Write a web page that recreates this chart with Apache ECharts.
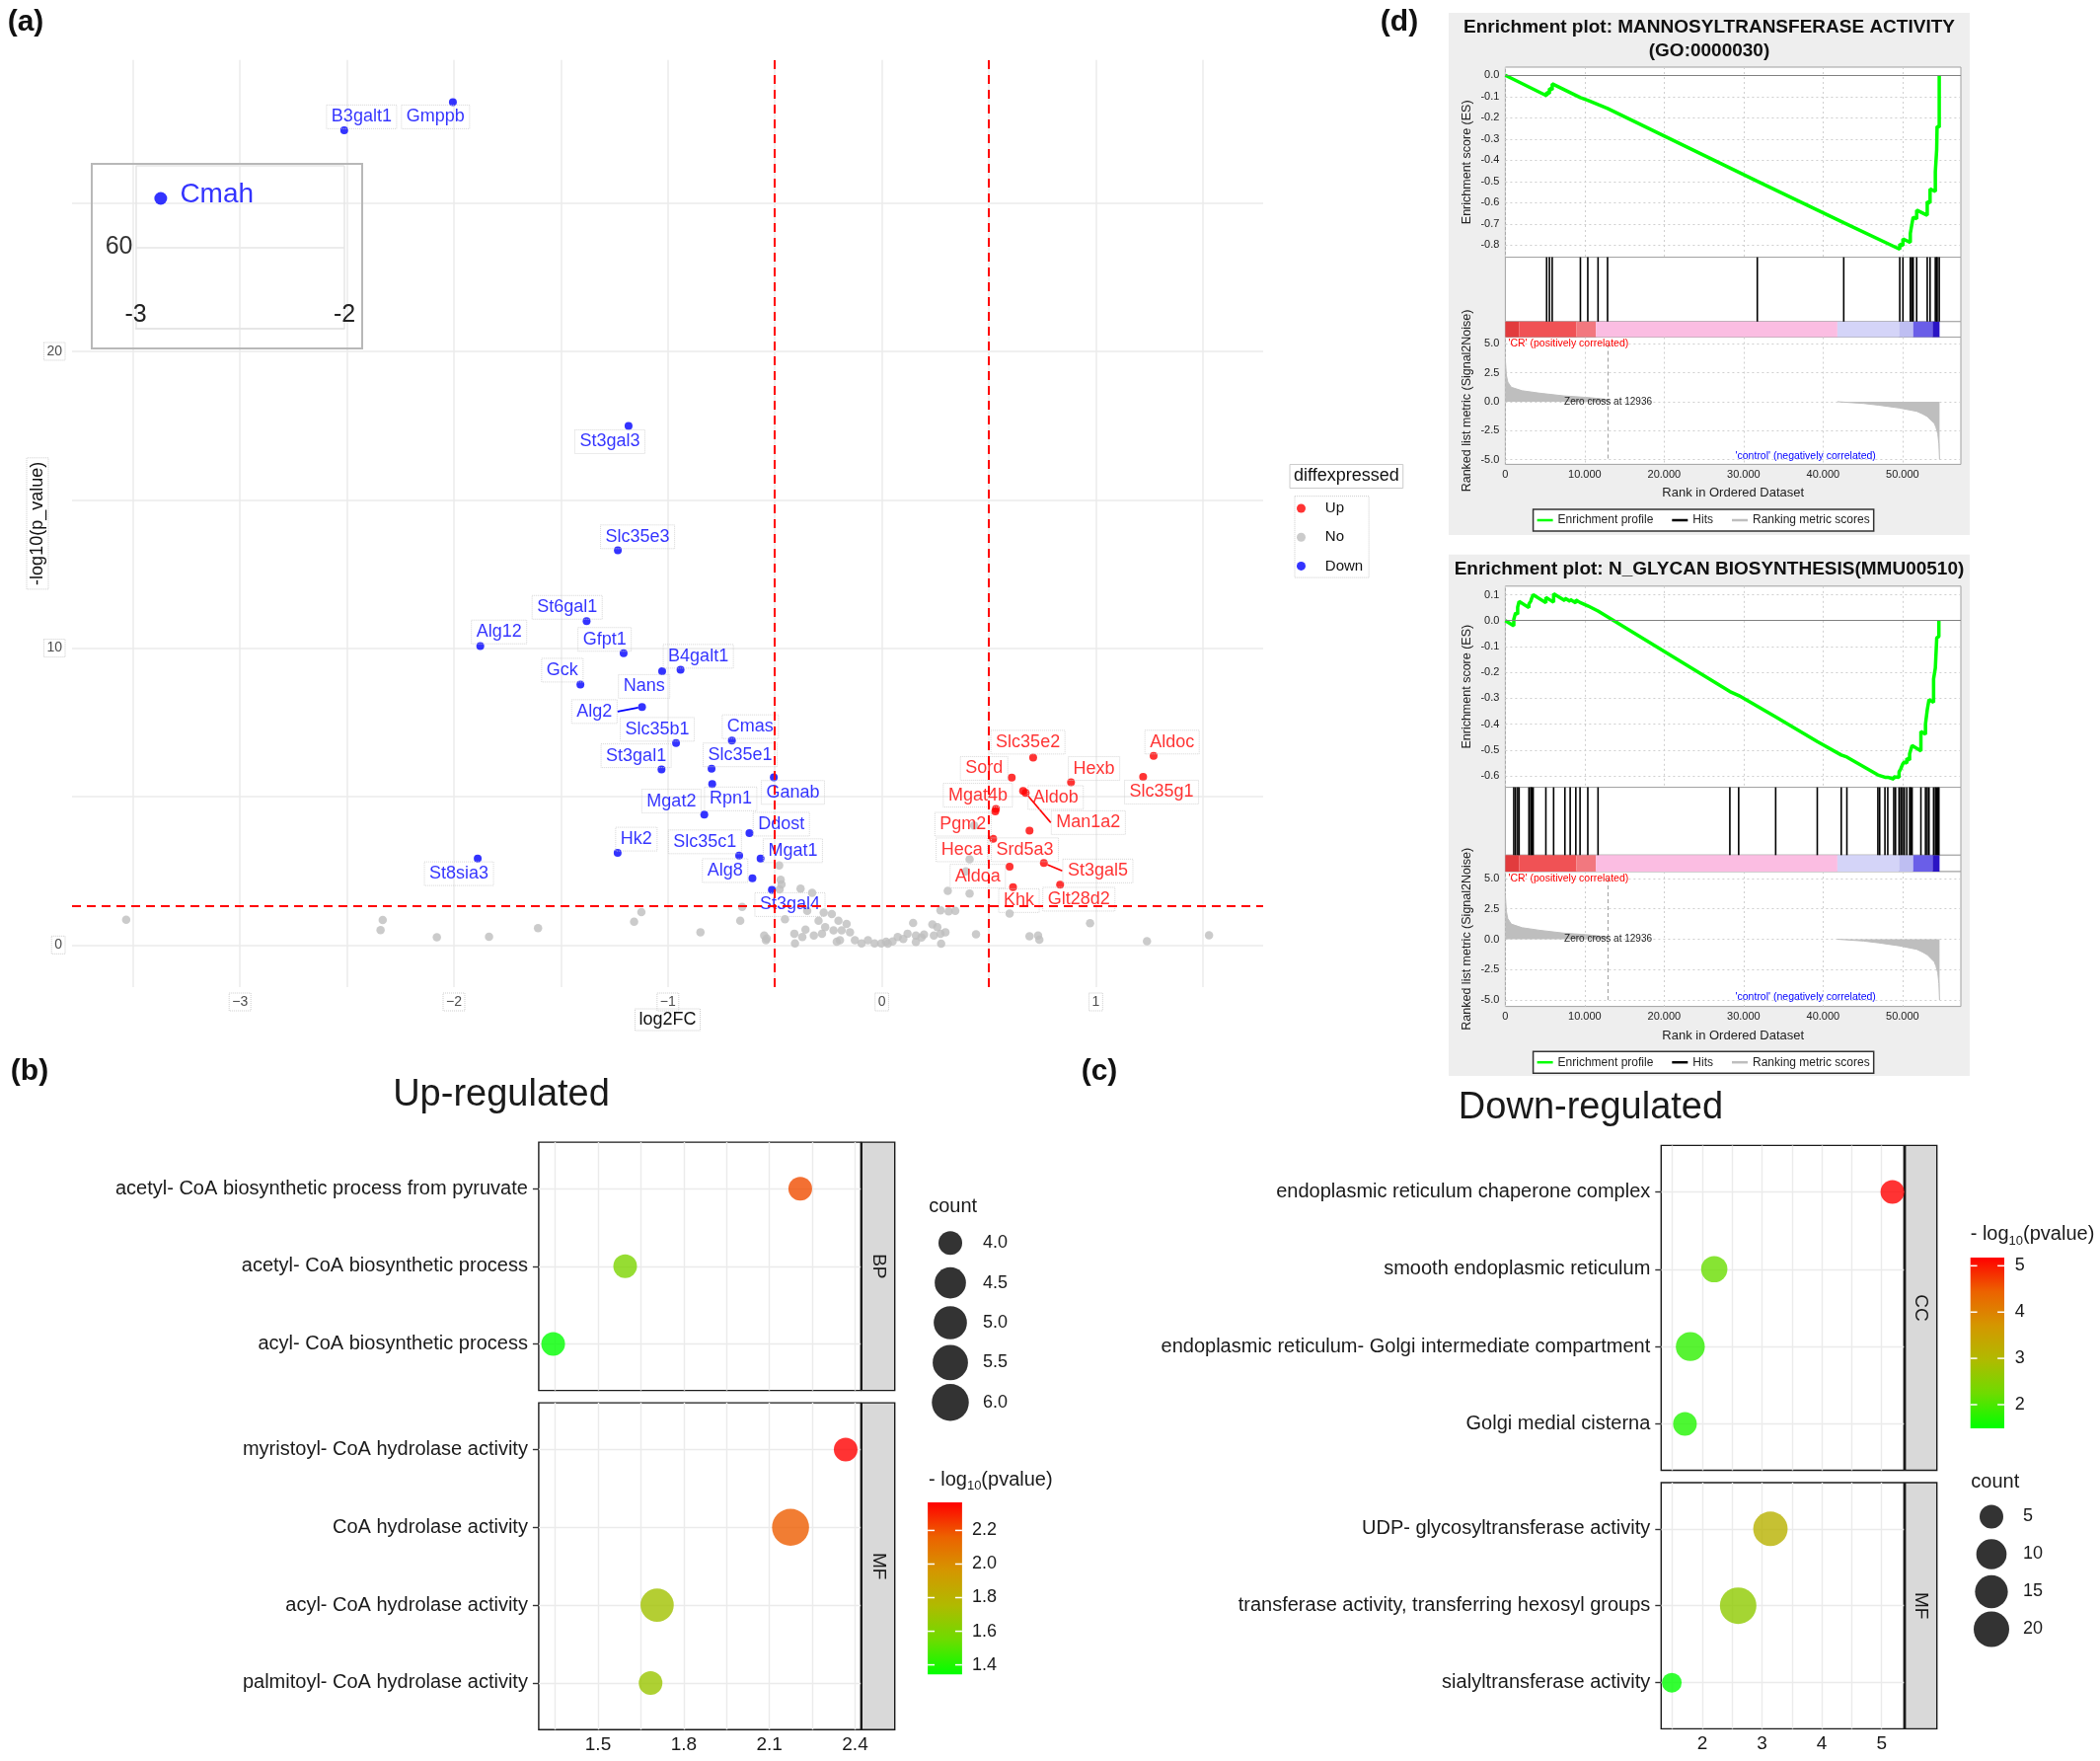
<!DOCTYPE html>
<html>
<head>
<meta charset="utf-8">
<script src="https://cdn.jsdelivr.net/npm/echarts@6.0.0/dist/echarts.min.js"></script>
<style>
html,body{margin:0;padding:0;background:#ffffff;}
#chart{width:2128px;height:1784px;}
</style>
</head>
<body>
<div id="chart"></div>
<script>
// ===================== DATA =====================
// (a) volcano plot
const downGenes = ['B3galt1','Gmppb','St3gal3','Slc35e3','St6gal1','Alg12','Gfpt1','Gck','B4galt1','Nans','Alg2','Slc35b1','Cmas','St3gal1','Slc35e1','Ganab','Rpn1','Mgat2','Ddost','Hk2','Slc35c1','Mgat1','Alg8','St3gal4','St8sia3'];
const downFC = [-2.513,-2.005,-1.184,-1.234,-1.380,-1.877,-1.207,-1.409,-0.941,-1.027,-1.121,-0.962,-0.701,-1.030,-0.796,-0.505,-0.793,-0.830,-0.619,-1.235,-0.667,-0.567,-0.605,-0.514,-1.889];
const downLogP = [27.45,28.40,17.49,13.30,10.91,10.07,9.83,8.77,9.27,9.22,8.02,6.80,6.89,5.91,5.94,5.65,5.42,4.39,3.77,3.10,3.01,2.91,2.25,1.86,2.91];
const upGenes = ['Slc35e2','Aldoc','Sord','Hexb','Slc35g1','Aldob','Man1a2','Mgat4b','Pgm2','Srd5a3','Heca','Aldoa','St3gal5','Khk','Glt28d2'];
const upFC = [0.707,1.270,0.607,0.884,1.221,0.660,0.672,0.533,0.530,0.690,0.520,0.597,0.757,0.613,0.833];
const upLogP = [6.31,6.37,5.64,5.48,5.66,5.19,5.12,4.58,4.50,3.85,3.58,2.64,2.76,1.95,2.03];
const noFC = [-3.532,-2.333,-2.343,-2.080,-1.836,-1.607,-1.158,-1.124,-0.848,-0.662,-0.653,-0.550,-0.542,-0.538,-0.480,-0.473,-0.469,-0.478,-0.453,-0.406,-0.409,-0.380,-0.372,-0.357,-0.349,-0.326,-0.318,-0.296,-0.280,-0.272,-0.265,-0.234,-0.226,-0.211,-0.203,-0.196,-0.188,-0.165,-0.149,-0.126,-0.095,-0.065,-0.034,-0.003,0.020,0.028,0.074,0.120,0.159,0.197,0.159,0.146,0.236,0.259,0.274,0.277,0.297,0.243,0.308,0.410,0.410,0.393,0.431,0.274,0.312,0.343,0.440,0.597,0.690,0.730,0.736,0.973,1.239,1.529,0.050,0.100,0.185];
const noLogP = [0.85,0.84,0.50,0.26,0.28,0.57,0.78,1.11,0.43,0.82,1.28,0.32,0.16,0.22,2.68,2.20,2.04,1.87,0.87,0.05,0.38,1.90,0.27,0.52,1.15,1.76,0.32,0.82,0.38,1.09,0.60,1.04,0.49,0.11,0.82,0.16,0.49,0.71,0.43,0.16,0.05,0.16,0.05,0.05,0.11,0.04,0.27,0.38,0.32,0.35,0.10,0.74,0.69,0.60,0.38,0.04,0.43,0.32,1.82,1.73,2.89,2.48,4.03,1.17,1.13,1.15,0.36,1.06,0.29,0.32,0.18,0.73,0.13,0.33,0.12,0.20,0.25];
const insetGene = ['Cmah'];
const insetFC = [-2.88];
const insetLogP = [63.0];
const fcCutoff = [-0.5, 0.5];
const pCutoff = [1.301];
const volcanoXTicks = [-3,-2,-1,0,1];
const volcanoXGrid = [-3.5,-3,-2.5,-2,-1.5,-1,-0.5,0,0.5,1,1.5];
const volcanoYTicks = [0,10,20];
const volcanoYGrid = [0,5,10,15,20,25];
const insetXTicks = [-3,-2];

// (d) GSEA
const gsea1Rank = [0,5200,5200,5550,5550,5900,5900,9450,9450,10380,10380,11670,11670,12870,12870,31720,31720,42600,42600,49650,49650,50050,50050,50980,50980,51160,51160,51340,51340,51780,51780,53110,53110,53466,53466,54130,54130,54300,54300,54350,54350,54620,54620];
const gsea1ES = [0,-0.096,-0.080,-0.086,-0.062,-0.068,-0.040,-0.105,-0.101,-0.118,-0.114,-0.138,-0.134,-0.156,-0.152,-0.499,-0.494,-0.694,-0.689,-0.819,-0.795,-0.802,-0.770,-0.787,-0.745,-0.748,-0.705,-0.708,-0.668,-0.676,-0.635,-0.659,-0.595,-0.601,-0.535,-0.547,-0.455,-0.458,-0.350,-0.351,-0.240,-0.245,0.0];
const gsea1Hits = [5200,5550,5900,9450,10380,11670,12870,31720,42600,49650,50050,50980,51160,51340,51780,53110,53466,54130,54300,54350,54620];
const gsea2Rank = [0,1065,1065,1287,1287,1553,1553,1730,1730,2973,2973,3195,3195,3328,3328,3505,3505,5103,5103,6079,6079,7499,7499,8164,8164,8874,8874,9406,9406,10383,10383,11669,11669,28264,28264,29373,29373,34032,34032,39268,39268,42285,42285,42995,42995,46899,46899,47121,47121,47787,47787,48142,48142,48896,48896,49118,49118,49561,49561,49783,49783,50005,50005,50227,50227,50538,50538,50892,50892,51026,51026,51203,51203,52313,52313,52889,52889,53111,53111,53333,53333,53910,53910,54131,54131,54309,54309,54442,54442,54575,54575];
const gsea2ES = [0,-0.020,0.005,0.001,0.030,0.025,0.052,0.049,0.074,0.050,0.064,0.060,0.075,0.072,0.087,0.084,0.100,0.069,0.090,0.071,0.104,0.077,0.087,0.074,0.082,0.068,0.080,0.070,0.076,0.057,0.062,0.037,0.042,-0.274,-0.268,-0.289,-0.283,-0.372,-0.366,-0.467,-0.461,-0.519,-0.513,-0.527,-0.521,-0.596,-0.592,-0.596,-0.592,-0.605,-0.598,-0.605,-0.598,-0.612,-0.603,-0.607,-0.596,-0.605,-0.585,-0.589,-0.572,-0.576,-0.555,-0.559,-0.545,-0.551,-0.532,-0.539,-0.515,-0.518,-0.500,-0.503,-0.482,-0.503,-0.428,-0.439,-0.400,-0.404,-0.345,-0.349,-0.305,-0.316,-0.225,-0.229,-0.183,-0.187,-0.066,-0.069,-0.060,-0.062,0.0];
const gsea2Hits = [1065,1287,1553,1730,2973,3195,3328,3505,5103,6079,7499,8164,8874,9406,10383,11669,28264,29373,34032,39268,42285,42995,46899,47121,47787,48142,48896,49118,49561,49783,50005,50227,50538,50892,51026,51203,52313,52889,53111,53333,53910,54131,54309,54442,54575];
const metricPosRank = [0,130,310,750,2100,4300,7400,10500,12700,12936];
const metricPosVal = [3.65,2.30,1.70,1.25,0.95,0.74,0.50,0.36,0.20,0.0];
const metricNegRank = [41800,45100,47000,49560,51780,52500,53110,54000,54200,54440,54580,54660];
const metricNegVal = [0.0,-0.15,-0.30,-0.54,-0.83,-1.05,-1.28,-1.87,-2.20,-2.77,-3.66,-5.0];
const zeroCross = [12936];
const bandEdges = [0,1730,8960,11400,41800,49560,51340,53780,54660];
const rankTicks = [0,10000,20000,30000,40000,50000];
const gsea1ESTicks = [0.0,-0.1,-0.2,-0.3,-0.4,-0.5,-0.6,-0.7,-0.8];
const gsea2ESTicks = [0.1,0.0,-0.1,-0.2,-0.3,-0.4,-0.5,-0.6];
const metricTicks = [5.0,2.5,0.0,-2.5,-5.0];

// (b) up-regulated GO
const upBPTerms = ['acetyl- CoA biosynthetic process from pyruvate','acetyl- CoA biosynthetic process','acyl- CoA biosynthetic process'];
const upBPLogP = [2.208,1.595,1.343];
const upBPCount = [4,4,4];
const upMFTerms = ['myristoyl- CoA hydrolase activity','CoA hydrolase activity','acyl- CoA hydrolase activity','palmitoyl- CoA hydrolase activity'];
const upMFLogP = [2.367,2.174,1.707,1.684];
const upMFCount = [4,6,5,4];
const upXTicks = [1.5,1.8,2.1,2.4];
const upXGrid = [1.35,1.5,1.65,1.8,1.95,2.1,2.25,2.4];
const upColorTicks = [1.4,1.6,1.8,2.0,2.2];
const upSizeLegend = [4.0,4.5,5.0,5.5,6.0];

// (c) down-regulated GO
const downCCTerms = ['endoplasmic reticulum chaperone complex','smooth endoplasmic reticulum','endoplasmic reticulum- Golgi intermediate compartment','Golgi medial cisterna'];
const downCCLogP = [5.18,2.20,1.80,1.71];
const downCCCount = [5,7,9,5];
const downMFTerms = ['UDP- glycosyltransferase activity','transferase activity, transferring hexosyl groups','sialyltransferase activity'];
const downMFLogP = [3.14,2.60,1.49];
const downMFCount = [18,22,3];
const downXTicks = [2,3,4,5];
const downXGrid = [1.5,2,2.5,3,3.5,4,4.5,5];
const downColorTicks = [2,3,4,5];
const downSizeLegend = [5,10,15,20];

// ===================== STYLE / LAYOUT =====================
const FONT = '"Liberation Sans", Arial, Helvetica, sans-serif';
const labelOffsets = {
  B3galt1:[17.6,-13.6], Gmppb:[-17.6,15], St3gal3:[-19,16], Slc35e3:[20,-13.6], St6gal1:[-19.7,-14],
  Alg12:[19,-14.3], Gfpt1:[-19.3,-14], Gck:[-18.3,-14.7], B4galt1:[18,-13.7], Nans:[-18.3,15.3],
  Alg2:[-48.3,4.7], Slc35b1:[-19,-14], Cmas:[18.7,-14], St3gal1:[-25.7,-14], Slc35e1:[29,-14],
  Ganab:[19.3,15.3], Rpn1:[18.7,15], Mgat2:[-33.3,-13.7], Ddost:[32.3,-9], Hk2:[19,-14],
  Slc35c1:[-34.7,-14], Mgat1:[32.7,-8], Alg8:[-27.7,-7.7], St3gal4:[18.3,15], St8sia3:[-19,15.3],
  Slc35e2:[-5.3,-15.7], Aldoc:[18.7,-14], Sord:[-28,-9.3], Hexb:[23.3,-14], Slc35g1:[18.7,15.3],
  Aldob:[33,6.7], Man1a2:[63.5,30], Mgat4b:[-18.3,-14], Pgm2:[-32.7,13], Srd5a3:[-4.7,19.3],
  Heca:[-31.7,11.3], Aldoa:[-32.3,9.7], St3gal5:[54.7,8], Khk:[6,13.7], Glt28d2:[19,14.7]
};
const connectorGenes = ['Alg2','Man1a2','St3gal5'];
const bandColors = ['#E23B3D','#F05255','#F2787F','#FBBDE2','#D4D4F8','#BEBEF2','#6A5EE8','#2A14C4'];
const GO_COLORS = ['#00FF00','#6DDC00','#B0BA00','#D49700','#EC6200','#FF0000'];
const sizeBreaksB = [4,4.5,5,5.5,6], sizePxB = [24,31.7,33.7,35.8,37.5];
const sizeBreaksC = [3,5,10,15,20,22], sizePxC = [20,24,30.7,33.3,36,37];

function interp(v, xs, ys){
  if (v <= xs[0]) return ys[0];
  for (let i = 1; i < xs.length; i++) {
    if (v <= xs[i]) { const t = (v - xs[i-1])/(xs[i]-xs[i-1]); return ys[i-1] + t*(ys[i]-ys[i-1]); }
  }
  return ys[ys.length-1];
}

const grids = [], xAxes = [], yAxes = [], series = [], graphics = [], legends = [], visualMaps = [];
function addGrid(g, xa, ya){
  const i = grids.length;
  grids.push(g);
  xAxes.push(Object.assign({gridIndex:i}, xa));
  yAxes.push(Object.assign({gridIndex:i}, ya));
  return i;
}
const dotBox = {borderColor:'#cccccc', borderType:'dotted', borderWidth:1};

// ---------- (a) volcano ----------
const vIdx = addGrid({left:73, top:60.7, width:1207, height:939.3},
  {type:'value', min:-3.785, max:1.782, axisLine:{show:false},
   axisTick:{show:false, customValues:volcanoXGrid},
   splitLine:{show:true, lineStyle:{color:'#EBEBEB', width:1.5}},
   axisLabel:Object.assign({customValues:volcanoXTicks, formatter:v=>(v<0?'\u2212':'')+Math.abs(v), fontSize:14, color:'#4d4d4d', margin:6, padding:[2,3], fontFamily:FONT}, dotBox),
   name:'log2FC', nameLocation:'middle', nameGap:22, nameMoveOverlap:false,
   nameTextStyle:Object.assign({fontSize:18, color:'#111', padding:[2,4], fontFamily:FONT}, dotBox)},
  {type:'value', min:-1.42, max:29.82, axisLine:{show:false},
   axisTick:{show:false, customValues:volcanoYGrid},
   splitLine:{show:true, lineStyle:{color:'#EBEBEB', width:1.5}},
   axisLabel:Object.assign({customValues:volcanoYTicks, fontSize:14, color:'#4d4d4d', margin:7, padding:[2,3], fontFamily:FONT}, dotBox),
   name:'-log10(p_value)', nameLocation:'middle', nameRotate:90, nameGap:24, nameMoveOverlap:false,
   nameTextStyle:Object.assign({fontSize:18, color:'#111', padding:[2,4], fontFamily:FONT}, dotBox)});

const iIdx = addGrid({left:137.5, top:168, width:211.5, height:165},
  {type:'value', min:-3, max:-2, interval:1,
   axisLine:{show:true, lineStyle:{color:'#e3e3e3', width:1.5}}, axisTick:{show:false},
   splitLine:{show:true, lineStyle:{color:'#e6e6e6', width:1.5}},
   axisLabel:{inside:true, customValues:insetXTicks, formatter:v=>String(v), fontSize:25, color:'#222', margin:1, fontFamily:FONT}},
  {type:'value', min:55, max:65, interval:5, axisLine:{show:false}, axisTick:{show:false},
   splitLine:{show:true, lineStyle:{color:'#e6e6e6', width:1.5}},
   axisLabel:{formatter:v=>v===60?'60':'', fontSize:25, color:'#333', margin:3, padding:[18,0,0,0], fontFamily:FONT}});

series.push({type:'scatter', name:'No', xAxisIndex:vIdx, yAxisIndex:vIdx, silent:true, z:2,
  data:noFC.map((x,i)=>[x, noLogP[i]]), symbolSize:8.5, itemStyle:{color:'#BEBEBE'}});
series.push({type:'line', xAxisIndex:vIdx, yAxisIndex:vIdx, data:[], silent:true, z:3,
  markLine:{silent:true, symbol:'none', label:{show:false}, animation:false,
    lineStyle:{color:'#FF0000', type:[9,6], width:2},
    data:[...fcCutoff.map(v=>({xAxis:v})), ...pCutoff.map(v=>({yAxis:v}))]}});
function geneSeries(name, genes, fc, lp, color){
  return {
    type:'scatter', name, xAxisIndex:vIdx, yAxisIndex:vIdx, z:4, silent:true,
    symbolSize:8, itemStyle:{color},
    data:genes.map((g,i)=>{
      const d = {name:g, value:[fc[i], lp[i]]};
      if (connectorGenes.includes(g)) d.labelLine = {show:true, lineStyle:{color, width:1.6}};
      return d;
    }),
    label:Object.assign({show:true, position:'inside', formatter:'{b}', color, fontSize:18, fontFamily:FONT, padding:[3,5]}, dotBox),
    labelLine:{show:false, lineStyle:{color, width:1.6}},
    labelLayout:p=>{ const o = labelOffsets[genes[p.dataIndex]] || [0,-14]; return {dx:o[0], dy:o[1]}; }
  };
}
series.push(geneSeries('Down', downGenes, downFC, downLogP, '#0000FF'));
series.push(geneSeries('Up', upGenes, upFC, upLogP, '#FF0000'));
series.push({type:'scatter', name:'Down', xAxisIndex:iIdx, yAxisIndex:iIdx, silent:true, z:4,
  data:insetGene.map((g,i)=>({name:g, value:[insetFC[i], insetLogP[i]]})),
  symbolSize:13, itemStyle:{color:'#0000FF'},
  label:{show:true, position:'right', distance:13, offset:[0,-4], formatter:'{b}', fontSize:28, color:'#0000FF', fontFamily:FONT}});

graphics.push({type:'rect', z:10, shape:{x:93, y:166, width:274, height:187}, style:{fill:'none', stroke:'#b8b8b8', lineWidth:2}});
graphics.push({type:'text', z:10, x:1307, y:482.5, style:Object.assign({text:'diffexpressed', fontSize:18, fontFamily:FONT, fill:'#111', align:'left', verticalAlign:'middle', padding:[3,4]}, {borderColor:'#cccccc', borderWidth:1, borderType:'dotted'})});
legends.push({show:true, orient:'vertical', left:1312, top:502.7, data:['Up','No','Down'], selectedMode:false,
  icon:'circle', itemWidth:15.4, itemHeight:9, itemGap:13.2, padding:[4.3,6,3.7,2],
  borderColor:'#cccccc', borderWidth:1, borderType:'dotted',
  textStyle:{fontSize:15, color:'#111', fontFamily:FONT, lineHeight:16, padding:[0,0,0,11.6]}});

// ---------- (d) GSEA ----------
const GX = {left:1525.4, width:461.6, xMax:57342};
const fmtRank = v => v === 0 ? '0' : Math.floor(v/1000) + '.' + String(v % 1000).padStart(3,'0');
function buildGSEA(c){
  const gridBase = {left:GX.left, width:GX.width, show:true, borderColor:'#a0a0a0', borderWidth:1, backgroundColor:'#ffffff'};
  const dotted = {show:true, lineStyle:{color:'#cfcfcf', type:[2,3], width:1}};
  const xHidden = {type:'value', min:0, max:GX.xMax, axisLine:{show:false}, axisTick:{show:false, customValues:rankTicks}, axisLabel:{show:false, customValues:rankTicks}, splitLine:{show:false}};
  const yName = {nameLocation:'middle', nameRotate:90, nameGap:32, nameTextStyle:{fontSize:12.5, color:'#222', fontFamily:FONT}};
  const es = addGrid(Object.assign({}, gridBase, {top:c.esTop, height:c.esBot-c.esTop}),
    Object.assign({}, xHidden, {splitLine:dotted}),
    Object.assign({type:'value', min:c.esMin, max:c.esMax, axisLine:{show:false}, axisTick:{show:false, customValues:c.esTicks}, splitLine:dotted,
      axisLabel:{customValues:c.esTicks, formatter:v=>v.toFixed(1), fontSize:11, color:'#222', margin:6, fontFamily:FONT},
      name:'Enrichment score (ES)'}, yName));
  const hits = addGrid(Object.assign({}, gridBase, {top:c.esBot, height:c.hitsBot-c.esBot}), Object.assign({}, xHidden), {type:'value', min:0, max:1, show:false});
  const band = addGrid(Object.assign({}, gridBase, {top:c.hitsBot, height:c.bandBot-c.hitsBot}), Object.assign({}, xHidden), {type:'value', min:0, max:1, show:false});
  const met = addGrid(Object.assign({}, gridBase, {top:c.bandBot, height:c.metBot-c.bandBot}),
    Object.assign({}, xHidden, {splitLine:dotted,
      axisLabel:{show:true, customValues:rankTicks, formatter:fmtRank, fontSize:11, color:'#222', margin:5, fontFamily:FONT},
      name:'Rank in Ordered Dataset', nameLocation:'middle', nameGap:23, nameTextStyle:{fontSize:13, color:'#222', fontFamily:FONT}}),
    Object.assign({type:'value', min:c.metMin, max:c.metMax, axisLine:{show:false}, axisTick:{show:false, customValues:metricTicks}, splitLine:dotted,
      axisLabel:{customValues:metricTicks, formatter:v=>v.toFixed(1), fontSize:11, color:'#222', margin:6, fontFamily:FONT},
      name:'Ranked list metric (Signal2Noise)'}, yName));

  series.push({type:'line', name:'Enrichment profile', xAxisIndex:es, yAxisIndex:es, silent:true, z:4,
    data:c.rank.map((r,i)=>[r, c.es[i]]), symbol:'none', showSymbol:false,
    lineStyle:{color:'#00FF00', width:3.5}, itemStyle:{color:'#00FF00'},
    markLine:{silent:true, symbol:'none', label:{show:false}, animation:false, lineStyle:{color:'#808080', width:1.2, type:'solid'}, data:[{yAxis:0}]}});
  series.push({type:'bar', name:'Hits', xAxisIndex:hits, yAxisIndex:hits, silent:true,
    data:c.hits.map(h=>[h,1]), barWidth:1.6, itemStyle:{color:'#000000'}});
  series.push({type:'custom', xAxisIndex:band, yAxisIndex:band, silent:true,
    data:bandEdges.slice(0,-1).map((e,i)=>[e, bandEdges[i+1], i]),
    encode:{x:[0,1]},
    renderItem:(params, api)=>{
      const a = api.coord([api.value(0), 1]);
      const b = api.coord([api.value(1), 0]);
      return {type:'rect', shape:{x:a[0], y:a[1], width:b[0]-a[0], height:b[1]-a[1]}, style:{fill:bandColors[api.value(2)]}};
    }});
  const metData = metricPosRank.map((r,i)=>[r, metricPosVal[i]]).concat([['-','-']]).concat(metricNegRank.map((r,i)=>[r, metricNegVal[i]]));
  series.push({type:'line', name:'Ranking metric scores', xAxisIndex:met, yAxisIndex:met, silent:true, z:3,
    data:metData, symbol:'none', showSymbol:false, connectNulls:false,
    lineStyle:{color:'#BEBEBE', width:1}, itemStyle:{color:'#BEBEBE'}, areaStyle:{color:'#BEBEBE', opacity:1},
    markLine:{silent:true, symbol:'none', label:{show:false}, animation:false,
      lineStyle:{color:'#a8a8a8', width:1.2, type:[4,3]},
      data:[[{coord:[zeroCross[0], 5.0]}, {coord:[zeroCross[0], -5.15]}]]},
    markPoint:{silent:true, symbol:'circle', symbolSize:1, itemStyle:{color:'rgba(0,0,0,0)'}, animation:false,
      data:[
        {coord:[0, 5.0], label:{show:true, formatter:"'CR' (positively correlated)", position:'inside', align:'left', offset:[3,0], color:'#FF0000', fontSize:10.5, fontFamily:FONT}},
        {coord:[zeroCross[0], 0], label:{show:true, formatter:'Zero cross at ' + zeroCross[0], position:'inside', color:'#222', fontSize:10, fontFamily:FONT}},
        {coord:[37800, -4.75], label:{show:true, formatter:"'control' (negatively correlated)", position:'inside', color:'#0000FF', fontSize:10.5, fontFamily:FONT}}
      ]}});

  graphics.push({type:'rect', z:-10, shape:{x:1468, y:c.bgTop, width:528, height:c.bgBot-c.bgTop}, style:{fill:'#EEEEEE'}});
  c.title.forEach((t,k)=>{
    graphics.push({type:'text', z:10, x:1732, y:c.titleY[k], style:{text:t, fontSize:19, fontWeight:'bold', fontFamily:FONT, fill:'#111', align:'center', verticalAlign:'middle'}});
  });
  legends.push({show:true, orient:'horizontal', left:1553.6, top:c.legendTop, selectedMode:false,
    data:['Enrichment profile','Hits','Ranking metric scores'], icon:'rect', itemWidth:16, itemHeight:2.5, itemGap:19,
    padding:[5,4], borderColor:'#333333', borderWidth:1.5, backgroundColor:'#ffffff',
    textStyle:{fontSize:12, color:'#222', fontFamily:FONT}});
}
buildGSEA({title:['Enrichment plot: MANNOSYLTRANSFERASE ACTIVITY','(GO:0000030)'], titleY:[28,52],
  bgTop:13, bgBot:542, esTop:68, esBot:260.6, hitsBot:325.8, bandBot:341.5, metBot:470.4,
  esMin:-0.8567, esMax:0.0386, esTicks:gsea1ESTicks, metMin:-5.418, metMax:5.589, legendTop:516,
  rank:gsea1Rank, es:gsea1ES, hits:gsea1Hits});
buildGSEA({title:['Enrichment plot: N_GLYCAN BIOSYNTHESIS(MMU00510)'], titleY:[577],
  bgTop:561.7, bgBot:1090, esTop:593.8, esBot:797.6, hitsBot:866.3, bandBot:883, metBot:1019.6,
  esMin:-0.6438, esMax:0.1332, esTicks:gsea2ESTicks, metMin:-5.537, metMax:5.569, legendTop:1065.2,
  rank:gsea2Rank, es:gsea2ES, hits:gsea2Hits});

// ---------- (b) & (c) GO dot plots ----------
function buildGO(o){
  const idxs = [];
  o.panels.forEach((p,k)=>{
    const n = p.terms.length;
    const last = k === o.panels.length-1;
    const pos = p.terms.map((t,i)=>i);
    const gi = addGrid({left:o.left, top:p.top, width:o.width, height:p.height, show:true, borderColor:'#1a1a1a', borderWidth:1.4, backgroundColor:'#ffffff'},
      {type:'value', min:o.xMin, max:o.xMax, axisLine:{show:false}, axisTick:{show:false, customValues:o.xGrid},
       splitLine:{show:true, lineStyle:{color:'#EBEBEB', width:1.4}},
       axisLabel:{show:last, customValues:o.xTicks, formatter:o.xFmt, fontSize:19, color:'#1a1a1a', margin:6, fontFamily:FONT}},
      {type:'value', min:-0.6, max:n-0.4, inverse:true, axisLine:{show:false},
       axisTick:{show:true, customValues:pos, length:6, lineStyle:{color:'#333', width:1.4}},
       splitLine:{show:true, lineStyle:{color:'#EBEBEB', width:1.4}},
       axisLabel:{customValues:pos, formatter:v=>p.terms[Math.round(v)], fontSize:20, color:'#1a1a1a', margin:11, fontFamily:FONT}});
    series.push({type:'scatter', xAxisIndex:gi, yAxisIndex:gi, silent:true, z:3,
      data:p.terms.map((t,i)=>[p.logp[i], i, p.count[i]]), symbolSize:v=>o.sizeFn(v[2])});
    idxs.push(series.length-1);
    graphics.push({type:'rect', z:5, shape:{x:o.strip.x, y:p.top, width:o.strip.w, height:p.height}, style:{fill:'#D9D9D9', stroke:'#1a1a1a', lineWidth:1.4}});
    graphics.push({type:'text', z:6, x:o.strip.x+o.strip.w/2, y:p.top+p.height/2, rotation:-Math.PI/2,
      style:{text:p.strip, fontSize:19, fontFamily:FONT, fill:'#1a1a1a', align:'center', verticalAlign:'middle'}});
  });
  visualMaps.push({type:'continuous', show:false, seriesIndex:idxs, dimension:0, min:o.cMin, max:o.cMax, inRange:{color:GO_COLORS}});
}
function buildColorbar(o){
  const gi = addGrid({left:o.left, top:o.top, width:o.width, height:o.height},
    {type:'value', min:0, max:1, show:false},
    {type:'value', min:o.min, max:o.max, position:'right', axisLine:{show:false}, axisTick:{show:false}, splitLine:{show:false},
     axisLabel:{customValues:o.ticks, formatter:o.fmt, fontSize:18, color:'#1a1a1a', margin:o.margin, fontFamily:FONT}});
  series.push({type:'custom', xAxisIndex:gi, yAxisIndex:gi, silent:true, clip:false, z:3,
    data:[[0.5, (o.min+o.max)/2]],
    renderItem:(params, api)=>{
      const tl = api.coord([0, o.max]), br = api.coord([1, o.min]);
      const stops = GO_COLORS.map((c,i)=>({offset:i/(GO_COLORS.length-1), color:c}));
      const children = [{type:'rect', shape:{x:tl[0], y:tl[1], width:br[0]-tl[0], height:br[1]-tl[1]},
        style:{fill:new echarts.graphic.LinearGradient(0,1,0,0,stops)}}];
      o.ticks.forEach(t=>{
        const p = api.coord([0,t]), q = api.coord([1,t]);
        const w = (q[0]-p[0])*0.2;
        children.push({type:'line', shape:{x1:p[0], y1:p[1], x2:p[0]+w, y2:p[1]}, style:{stroke:'#ffffff', lineWidth:1.5}});
        children.push({type:'line', shape:{x1:q[0]-w, y1:q[1], x2:q[0], y2:q[1]}, style:{stroke:'#ffffff', lineWidth:1.5}});
      });
      return {type:'group', children};
    }});
}
function buildSizeLegend(o){
  const gi = addGrid({left:o.left, top:o.top, width:o.width, height:o.height},
    {type:'value', min:0, max:1, show:false},
    {type:'category', data:o.values.map(o.fmt), inverse:true, position:'right', axisLine:{show:false}, axisTick:{show:false}, splitLine:{show:false},
     axisLabel:{fontSize:18, color:'#1a1a1a', margin:o.margin, fontFamily:FONT, align:'left'}});
  series.push({type:'scatter', xAxisIndex:gi, yAxisIndex:gi, silent:true, itemStyle:{color:'#000000'},
    data:o.values.map((v,i)=>[0.5, i, v]), symbolSize:d=>o.sizeFn(d[2])});
}
function legendTitle(x, y, plain){
  if (plain) {
    graphics.push({type:'text', z:10, x, y, style:{text:plain, fontSize:20, fontFamily:FONT, fill:'#1a1a1a', align:'left', verticalAlign:'middle'}});
  } else {
    graphics.push({type:'text', z:10, x, y, style:{text:'{n|- log}{s|10}{n|(pvalue)}', align:'left', verticalAlign:'middle', fill:'#1a1a1a',
      rich:{n:{fontSize:20, fontFamily:FONT, lineHeight:26, verticalAlign:'middle', fill:'#1a1a1a'}, s:{fontSize:13, fontFamily:FONT, lineHeight:14, verticalAlign:'bottom', fill:'#1a1a1a'}}}});
  }
}

const sizeFnB = v => interp(v, sizeBreaksB, sizePxB);
const sizeFnC = v => interp(v, sizeBreaksC, sizePxC);
const upAll = upBPLogP.concat(upMFLogP), downAll = downCCLogP.concat(downMFLogP);
const upMin = Math.min(...upAll), upMax = Math.max(...upAll);
const dnMin = Math.min(...downAll), dnMax = Math.max(...downAll);

buildGO({left:545.9, width:326.4, xMin:1.2924, xMax:2.420, xGrid:upXGrid, xTicks:upXTicks, xFmt:v=>v.toFixed(1),
  strip:{x:873.3, w:33.4}, sizeFn:sizeFnB, cMin:upMin, cMax:upMax,
  panels:[{top:1157.1, height:251.5, terms:upBPTerms, logp:upBPLogP, count:upBPCount, strip:'BP'},
          {top:1421.1, height:331.1, terms:upMFTerms, logp:upMFLogP, count:upMFCount, strip:'MF'}]});
buildGO({left:1683.3, width:246, xMin:1.312, xMax:5.373, xGrid:downXGrid, xTicks:downXTicks, xFmt:v=>String(v),
  strip:{x:1930.7, w:32}, sizeFn:sizeFnC, cMin:dnMin, cMax:dnMax,
  panels:[{top:1160.4, height:329.1, terms:downCCTerms, logp:downCCLogP, count:downCCCount, strip:'CC'},
          {top:1502, height:249.4, terms:downMFTerms, logp:downMFLogP, count:downMFCount, strip:'MF'}]});

buildColorbar({left:940.1, top:1522, width:34.8, height:174.3, min:upMin, max:upMax, ticks:upColorTicks, fmt:v=>v.toFixed(1), margin:10});
buildColorbar({left:1996.7, top:1273.9, width:34.3, height:173, min:dnMin, max:dnMax, ticks:downColorTicks, fmt:v=>String(v), margin:10.7});
buildSizeLegend({left:940, top:1239, width:46, height:202, values:upSizeLegend, fmt:v=>v.toFixed(1), sizeFn:sizeFnB, margin:10});
buildSizeLegend({left:2000, top:1517.5, width:36, height:152, values:downSizeLegend, fmt:v=>String(v), sizeFn:sizeFnC, margin:14});
legendTitle(941.2, 1222.6, 'count');
legendTitle(1997.3, 1501.2, 'count');
legendTitle(941, 1499, null);
legendTitle(1996.7, 1250.9, null);

// titles & panel letters
graphics.push({type:'text', z:10, x:508, y:1110, style:{text:'Up-regulated', fontSize:38, fontFamily:FONT, fill:'#1a1a1a', align:'center', verticalAlign:'middle'}});
graphics.push({type:'text', z:10, x:1612, y:1123, style:{text:'Down-regulated', fontSize:38, fontFamily:FONT, fill:'#1a1a1a', align:'center', verticalAlign:'middle'}});
[['(a)',26,23],['(b)',30,1086],['(c)',1114,1086],['(d)',1418,23]].forEach(([t,x,y])=>{
  graphics.push({type:'text', z:10, x, y, style:{text:t, fontSize:30, fontWeight:'bold', fontFamily:FONT, fill:'#111', align:'center', verticalAlign:'middle'}});
});

const chart = echarts.init(document.getElementById('chart'), null, {renderer:'canvas', width:2128, height:1784});
chart.setOption({
  animation:false,
  backgroundColor:'#ffffff',
  textStyle:{fontFamily:FONT},
  grid:grids, xAxis:xAxes, yAxis:yAxes,
  series, legend:legends, visualMap:visualMaps,
  graphic:{elements:graphics}
});
</script>
</body>
</html>
